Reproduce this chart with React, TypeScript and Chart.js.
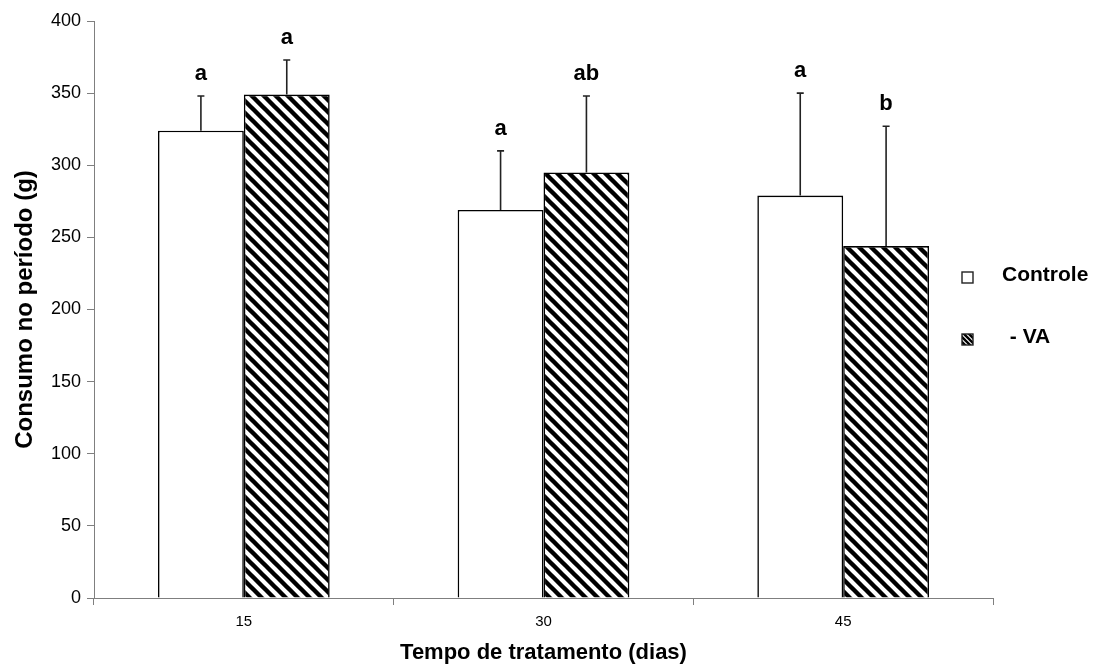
import React, { useEffect, useRef } from "react";
import { Chart, registerables } from "chart.js";

Chart.register(...registerables);

// ---- Data ----
const categories = ["15", "30", "45"];
const seriesNames = ["Controle", " - VA"];
const controle = [324, 269, 279];
const controleSD = [24, 41, 71];
const semVA = [349, 295, 244];
const semVASD = [24, 53, 83];
const controleLetters = ["a", "a", "a"];
const semVALetters = ["a", "ab", "b"];
const yMin = 0;
const yMax = 400;
const yStep = 50;

const FONT = "'Liberation Sans', Arial, Helvetica, sans-serif";
const AXIS_GRAY = "#7f7f7f";

function makeHatch(period: number, lw: number): CanvasPattern | string {
  const c = document.createElement("canvas");
  c.width = period;
  c.height = period;
  const g = c.getContext("2d");
  if (!g) return "#000";
  g.fillStyle = "#fff";
  g.fillRect(0, 0, period, period);
  g.strokeStyle = "#000";
  g.lineWidth = lw;
  g.beginPath();
  for (let k = -1; k <= 1; k++) {
    g.moveTo(k * period - 2, -2);
    g.lineTo(k * period + period + 2, period + 2);
  }
  g.stroke();
  const p = g.createPattern(c, "repeat");
  return p || "#000";
}

const errorsAndLetters = [
  { sd: controleSD, letters: controleLetters },
  { sd: semVASD, letters: semVALetters },
];

const errorBarPlugin = {
  id: "errorBarsLetters",
  afterDatasetsDraw(chart: any) {
    const ctx = chart.ctx;
    const yScale = chart.scales.y;
    chart.data.datasets.forEach((ds: any, di: number) => {
      const meta = chart.getDatasetMeta(di);
      const extra = errorsAndLetters[di];
      meta.data.forEach((bar: any, i: number) => {
        const v = ds.data[i] as number;
        const top = yScale.getPixelForValue(v + extra.sd[i]);
        ctx.save();
        ctx.strokeStyle = "#222";
        ctx.lineWidth = 1.6;
        ctx.beginPath();
        ctx.moveTo(bar.x, bar.y);
        ctx.lineTo(bar.x, top);
        ctx.moveTo(bar.x - 3.5, top);
        ctx.lineTo(bar.x + 3.5, top);
        ctx.stroke();
        ctx.fillStyle = "#000";
        ctx.font = `bold 22px ${FONT}`;
        ctx.textAlign = "center";
        ctx.textBaseline = "alphabetic";
        ctx.fillText(extra.letters[i], bar.x, top - 16);
        ctx.restore();
      });
    });
  },
};

const legendPlugin = {
  id: "customLegend",
  afterDraw(chart: any) {
    const ctx = chart.ctx;
    const area = chart.chartArea;
    const x0 = area.right - 31;
    const items = [
      { y: 278, text: seriesNames[0], textX: area.right + 9 },
      { y: 340, text: seriesNames[1], textX: area.right + 11 },
    ];
    chart.data.datasets.forEach((ds: any, di: number) => {
      const it = items[di];
      if (!it) return;
      ctx.save();
      ctx.fillStyle = di === 0 ? "#fff" : (chart as any).$smallHatch;
      ctx.fillRect(x0, it.y - 6, 11, 11);
      ctx.strokeStyle = "#222";
      ctx.lineWidth = 1.4;
      ctx.strokeRect(x0, it.y - 6, 11, 11);
      ctx.fillStyle = "#000";
      ctx.font = `bold 21px ${FONT}`;
      ctx.textAlign = "left";
      ctx.textBaseline = "middle";
      ctx.fillText(it.text, it.textX, it.y - 3);
      ctx.restore();
    });
  },
};

export default function App() {
  const ref = useRef<HTMLCanvasElement | null>(null);

  useEffect(() => {
    if (!ref.current) return;
    Chart.defaults.font.family = FONT;
    const hatch = makeHatch(12, 4.4);
    const smallHatch = makeHatch(5, 2.4);

    const chart: any = new Chart(ref.current, {
      type: "bar",
      data: {
        labels: categories,
        datasets: [
          {
            label: seriesNames[0],
            data: controle,
            backgroundColor: "#ffffff",
            borderColor: "#000000",
            borderWidth: 1.6,
            categoryPercentage: 0.573,
            barPercentage: 1,
          },
          {
            label: seriesNames[1],
            data: semVA,
            backgroundColor: hatch as any,
            borderColor: "#000000",
            borderWidth: 1.6,
            categoryPercentage: 0.573,
            barPercentage: 1,
          },
        ],
      },
      options: {
        responsive: false,
        animation: false,
        layout: { padding: { left: 0, top: 21, right: 103, bottom: 0 } },
        plugins: {
          legend: { display: false },
          tooltip: { enabled: false },
        },
        scales: {
          x: {
            offset: true,
            grid: {
              display: true,
              drawOnChartArea: false,
              drawTicks: true,
              tickLength: 7,
              color: AXIS_GRAY,
              offset: true,
            },
            border: { display: true, color: AXIS_GRAY, width: 1 },
            ticks: { color: "#000", font: { size: 15 }, padding: 8, autoSkip: false, maxRotation: 0 },
            title: {
              display: true,
              text: "Tempo de tratamento (dias)",
              color: "#000",
              font: { size: 22, weight: "bold", lineHeight: 1 },
              padding: { top: 0, bottom: 2 },
            },
            afterFit: (s: any) => {
              s.height = 68;
            },
          },
          y: {
            min: yMin,
            max: yMax,
            ticks: { stepSize: yStep, color: "#000", font: { size: 18 }, padding: 6 },
            grid: {
              display: true,
              drawOnChartArea: false,
              drawTicks: true,
              tickLength: 7,
              color: AXIS_GRAY,
            },
            border: { display: true, color: AXIS_GRAY, width: 1 },
            title: {
              display: true,
              text: "Consumo no período (g)",
              color: "#000",
              font: { size: 24, weight: "bold", lineHeight: 1.2 },
              padding: { top: 11, bottom: 0 },
            },
            afterFit: (s: any) => {
              s.width = 94;
            },
          },
        },
      } as any,
      plugins: [errorBarPlugin, legendPlugin],
    });
    chart.$smallHatch = smallHatch;
    chart.draw();

    return () => {
      chart.destroy();
    };
  }, []);

  return (
    <div style={{ position: "fixed", left: 0, top: 0, width: 1096, height: 666, background: "#fff" }}>
      <canvas ref={ref} width={1096} height={666} style={{ display: "block" }} />
    </div>
  );
}
